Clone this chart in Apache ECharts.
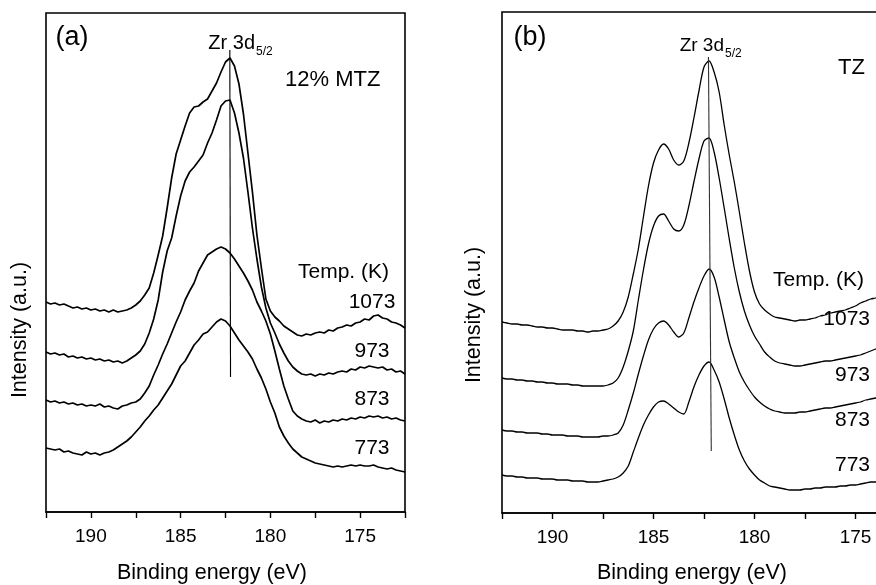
<!DOCTYPE html>
<html>
<head>
<meta charset="utf-8">
<script src="https://cdn.jsdelivr.net/npm/echarts@6/dist/echarts.min.js"></script>
<style>
  html, body { margin: 0; padding: 0; background: #fff; }
  #xps { width: 876px; height: 585px; }
</style>
</head>
<body>
<div id="xps"></div>
<script>
// binding energy grid (eV), high -> low
const energy = [
  192.5, 192.25, 192, 191.75, 191.5, 191.25, 191, 190.75, 190.5, 190.25,
  190, 189.75, 189.5, 189.25, 189, 188.75, 188.5, 188.25, 188, 187.75,
  187.5, 187.25, 187, 186.75, 186.5, 186.25, 186, 185.75, 185.5, 185.25,
  185, 184.75, 184.5, 184.25, 184, 183.75, 183.5, 183.25, 183, 182.75,
  182.5, 182.25, 182, 181.75, 181.5, 181.25, 181, 180.75, 180.5, 180.25,
  180, 179.75, 179.5, 179.25, 179, 178.75, 178.5, 178.25, 178, 177.75,
  177.5, 177.25, 177, 176.75, 176.5, 176.25, 176, 175.75, 175.5, 175.25,
  175, 174.75, 174.5, 174.25, 174, 173.75, 173.5, 173.25, 173, 172.75,
  172.5
]

// (a) 12% MTZ, stacked intensity (a.u.)
const mtz1073 = [
  210, 208, 209, 207, 208, 206, 204, 205, 203, 204,
  202, 203, 201, 202, 200, 202, 200, 201, 202, 204,
  207, 211, 217, 224, 239, 257, 276, 304, 334, 358,
  372, 386, 399, 405, 406, 410, 413, 421, 429, 440,
  450, 454, 446, 428, 398, 359, 320, 277, 244, 213,
  201, 195, 191, 186, 183, 180, 177, 176, 178, 177,
  179, 180, 179, 182, 181, 184, 185, 187, 186, 189,
  190, 193, 192, 196, 197, 194, 193, 190, 189, 187,
  184
]
const mtz973 = [
  160, 158, 159, 157, 158, 155, 156, 154, 155, 153,
  154, 152, 153, 151, 152, 150, 151, 149, 151, 154,
  157, 161, 168, 179, 193, 212, 240, 261, 274, 296,
  316, 331, 340, 345, 351, 357, 369, 379, 392, 406,
  411, 412, 399, 379, 354, 320, 284, 253, 225, 204,
  189, 179, 168, 159, 151, 145, 141, 138, 137, 138,
  136, 138, 137, 139, 138, 140, 141, 140, 143, 142,
  145, 144, 146, 145, 144, 145, 142, 143, 140, 141,
  138
]
const mtz873 = [
  112, 110, 111, 109, 110, 108, 109, 107, 108, 106,
  107, 106, 108, 105, 106, 104, 103, 106, 107, 109,
  110, 113, 119, 126, 137, 147, 158, 168, 179, 190,
  200, 212, 221, 229, 241, 249, 257, 260, 263, 265,
  263, 259, 253, 246, 239, 231, 222, 210, 201, 191,
  178, 161, 143, 126, 113, 101, 96, 93, 91, 90,
  92, 89, 91, 90, 92, 91, 93, 92, 94, 93,
  95, 94, 96, 95, 96, 94, 95, 93, 94, 92,
  91
]
const mtz773 = [
  64, 63, 62, 63, 60, 61, 59, 58, 57, 60,
  58, 59, 57, 59, 60, 62, 65, 68, 71, 75,
  80, 85, 91, 96, 102, 107, 114, 121, 128, 137,
  146, 151, 159, 167, 172, 178, 180, 185, 190, 193,
  191, 186, 179, 172, 166, 160, 153, 143, 134, 123,
  110, 99, 85, 76, 69, 63, 59, 55, 53, 51,
  49, 48, 47, 46, 45, 46, 45, 46, 47, 46,
  47, 46, 46, 47, 45, 44, 43, 44, 42, 41,
  40
]

// (b) TZ, stacked intensity (a.u.), trace runs past the frame edge
const tz1073 = [
  191, 190, 189, 189, 188, 188, 187, 186, 186, 185,
  185, 184, 183, 183, 183, 182, 182, 181, 182, 182,
  183, 184, 187, 192, 201, 216, 239, 264, 296, 327,
  350, 363, 369, 364, 353, 348, 352, 370, 395, 422,
  446, 452, 441, 421, 388, 358, 331, 301, 270, 242,
  221, 209, 203, 199, 196, 195, 194, 193, 192, 193,
  193, 194, 195, 197, 198, 200, 201, 202, 203, 205,
  207, 210, 212, 214, 215, 217
]
const tz973 = [
  135, 134, 134, 133, 133, 132, 132, 131, 131, 130,
  130, 129, 129, 129, 128, 128, 127, 127, 127, 127,
  127, 128, 130, 135, 146, 162, 182, 213, 243, 269,
  287, 297, 299, 292, 284, 282, 288, 307, 331, 354,
  372, 375, 361, 335, 305, 274, 245, 221, 202, 188,
  177, 169, 161, 156, 152, 150, 149, 148, 147, 147,
  148, 149, 150, 151, 152, 152, 153, 154, 155, 156,
  157, 158, 160, 162, 164, 166
]
const tz873 = [
  83, 82, 82, 81, 81, 80, 80, 80, 79, 79,
  78, 78, 78, 77, 77, 77, 76, 76, 76, 76,
  77, 77, 78, 80, 88, 103, 120, 139, 157, 173,
  184, 190, 192, 188, 181, 176, 180, 195, 211, 225,
  237, 244, 236, 216, 193, 171, 155, 141, 131, 123,
  116, 111, 107, 104, 102, 101, 100, 100, 100, 101,
  101, 102, 103, 104, 105, 105, 106, 107, 108, 109,
  110, 111, 113, 114, 115, 116
]
const tz773 = [
  38, 37, 37, 36, 36, 35, 35, 35, 34, 34,
  34, 33, 33, 33, 32, 32, 32, 31, 31, 31,
  32, 33, 34, 36, 40, 47, 61, 75, 88, 98,
  106, 111, 112, 109, 105, 101, 99, 111, 126, 138,
  147, 151, 143, 131, 114, 95, 78, 63, 52, 44,
  38, 33, 30, 27, 26, 25, 24, 23, 23, 23,
  24, 24, 25, 25, 26, 26, 26, 27, 27, 28,
  28, 29, 30, 31, 31, 32
]

// Zr 3d5/2 reference lines [energy, intensity]
const peakLineA = [[182.26, 462], [182.22, 135]]
const peakLineB = [[182.28, 456], [182.14, 62]]

const temps = ['1073', '973', '873', '773']

const FONT = '"Liberation Sans", Arial, Helvetica, sans-serif'

function toPoints (vals) {
  return vals.map((v, i) => [energy[i], v])
}

function xAxisFor (gridIndex) {
  return {
    type: 'value',
    gridIndex: gridIndex,
    inverse: true,
    min: 172.5,
    max: 192.5,
    interval: 2.5,
    splitLine: { show: false },
    axisLine: { show: true, onZero: false, lineStyle: { color: '#000', width: 1.6 } },
    axisTick: { show: true, inside: false, length: 6, lineStyle: { color: '#000', width: 1.4 } },
    axisLabel: {
      margin: 15,
      color: '#000',
      fontSize: 19,
      fontFamily: FONT,
      formatter: function (v) {
        return v % 5 === 0 ? String(v) : ''
      }
    }
  }
}

function yAxisFor (gridIndex, max) {
  return {
    type: 'value',
    gridIndex: gridIndex,
    min: 0,
    max: max,
    splitLine: { show: false },
    axisLine: { show: false },
    axisTick: { show: false },
    axisLabel: { show: false }
  }
}

function spectrum (vals, axisIndex, width, smooth) {
  return {
    type: 'line',
    xAxisIndex: axisIndex,
    yAxisIndex: axisIndex,
    data: toPoints(vals),
    symbol: 'none',
    smooth: smooth,
    silent: true,
    lineStyle: { color: '#000', width: width }
  }
}

function peakLine (pts, axisIndex, color) {
  return {
    type: 'line',
    xAxisIndex: axisIndex,
    yAxisIndex: axisIndex,
    data: pts,
    symbol: 'none',
    silent: true,
    lineStyle: { color: color, width: 1.1 }
  }
}

function label (text, x, y, size, align, extra) {
  return Object.assign({
    type: 'text',
    x: x,
    y: y,
    silent: true,
    style: {
      text: text,
      fill: '#000',
      font: size + 'px ' + FONT,
      textAlign: align || 'left',
      textVerticalAlign: 'middle'
    }
  }, extra || {})
}

const graphics = [
  label('(a)', 72, 38, 27, 'center'),
  label('(b)', 530, 38, 27, 'center'),
  label('Zr 3d', 255, 43.5, 20, 'right'),
  label('5/2', 256, 51.5, 12, 'left'),
  label('Zr 3d', 724, 45.5, 19, 'right'),
  label('5/2', 725, 53.5, 12, 'left'),
  label('12% MTZ', 285, 80, 22, 'left'),
  label('TZ', 838, 67.5, 22, 'left'),
  label('Temp. (K)', 298, 272.5, 21, 'left'),
  label('Temp. (K)', 773, 280.5, 21, 'left'),
  label('Binding energy (eV)', 212, 573, 21.5, 'center'),
  label('Binding energy (eV)', 692, 573, 21.5, 'center'),
  label('Intensity (a.u.)', 20, 330, 21.5, 'center', { rotation: Math.PI / 2 }),
  label('Intensity (a.u.)', 474, 315, 21.5, 'center', { rotation: Math.PI / 2 })
]
const tempYA = [302.5, 351, 399, 448.5]
const tempYB = [319.5, 375.5, 420.5, 465.5]
temps.forEach((t, i) => {
  graphics.push(label(t, 372, tempYA[i], 21, 'center'))
  graphics.push(label(t, 870, tempYB[i], 21, 'right'))
})

const myChart = echarts.init(document.getElementById('xps'), null, { renderer: 'canvas' })
const gridStyle = { show: true, borderColor: '#000', borderWidth: 1.6, backgroundColor: 'transparent', outerBoundsMode: 'none', containLabel: false }
const option = {
  animation: false,
  backgroundColor: '#fff',
  grid: [
    Object.assign({ left: 46, top: 13, width: 359, height: 499 }, gridStyle),
    Object.assign({ left: 502, top: 12, width: 404, height: 501 }, gridStyle)
  ],
  xAxis: [xAxisFor(0), xAxisFor(1)],
  yAxis: [yAxisFor(0, 499), yAxisFor(1, 501)],
  series: [
    spectrum(mtz1073, 0, 1.7, false),
    spectrum(mtz973, 0, 1.7, false),
    spectrum(mtz873, 0, 1.7, false),
    spectrum(mtz773, 0, 1.7, false),
    peakLine(peakLineA, 0, '#000'),
    spectrum(tz1073, 1, 1.3, 0.3),
    spectrum(tz973, 1, 1.3, 0.3),
    spectrum(tz873, 1, 1.3, 0.3),
    spectrum(tz773, 1, 1.3, 0.3),
    peakLine(peakLineB, 1, '#333')
  ],
  graphic: graphics
}
myChart.setOption(option)
window.addEventListener('resize', () => {
  myChart.resize()
})
</script>
</body>
</html>
